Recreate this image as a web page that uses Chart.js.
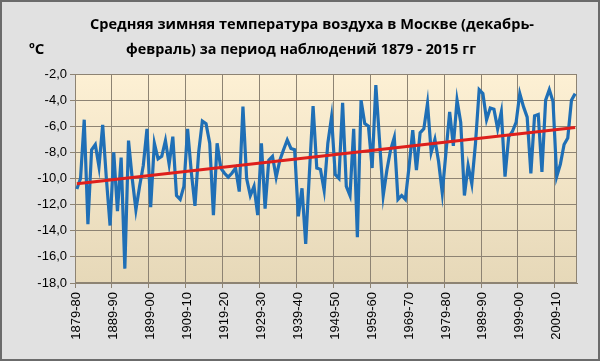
<!DOCTYPE html>
<html lang="ru">
<head>
<meta charset="utf-8">
<script src="https://cdn.jsdelivr.net/npm/chart.js@4.4.1/dist/chart.umd.min.js"></script>
<style>
    html, body { margin: 0; padding: 0; background: #e1e1e1; }
    #wrap { width: 600px; height: 361px; position: relative; }
</style>
</head>
<body>
<div id="wrap"><canvas id="chart"></canvas></div>
<script>
// Подписи и данные
const chartTitle = [
    'Средняя зимняя температура воздуха в Москве (декабрь-',
    'февраль) за период наблюдений 1879 - 2015 гг'
];
const unitLabel = 'ºC';

// зимы 1879-80 ... 2014-15
const firstWinter = 1879;
const winterCount = 136;
const labelStep = 10;
const seasons = [];
for (let k = 0; k < winterCount; k++) {
    const y = firstWinter + k;
    seasons.push(y + '-' + String((y + 1) % 100).padStart(2, '0'));
}

// средняя температура дек-фев, °C
const winterTemps = [
    -10.8, -10.0, -5.5, -13.5, -7.8, -7.4, -9.1, -5.9, -10.0, -13.6,
    -8.0, -12.5, -8.4, -16.9, -7.1, -10.0, -12.4, -10.6, -9.0, -6.2,
    -12.2, -7.3, -8.5, -8.3, -7.1, -8.9, -6.8, -11.3, -11.6, -10.6,
    -6.2, -9.5, -12.1, -8.0, -5.6, -5.8, -7.3, -12.8, -7.3, -9.2,
    -9.6, -9.9, -9.6, -9.2, -11.0, -4.5, -10.0, -11.3, -10.6, -12.8,
    -7.3, -12.3, -8.6, -8.3, -9.9, -8.6, -7.8, -7.05, -7.7, -7.8,
    -12.9, -10.75, -15.0, -9.6, -4.45, -9.2, -9.3, -10.9, -7.3, -5.3,
    -9.7, -10.0, -4.2, -10.6, -11.3, -6.2, -14.5, -4.0, -5.8, -6.0,
    -9.2, -2.85, -7.1, -11.3, -9.35, -7.8, -6.85, -11.6, -11.3, -11.6,
    -9.1, -6.3, -9.35, -6.5, -6.2, -4.25, -8.0, -7.0, -8.7, -11.1,
    -8.0, -4.9, -7.5, -4.0, -5.7, -11.3, -9.0, -10.4, -7.3, -3.2,
    -3.5, -5.5, -4.6, -4.7, -6.2, -4.9, -9.85, -6.8, -6.4, -5.7,
    -3.5, -4.5, -5.3, -9.6, -5.2, -5.1, -9.5, -4.0, -3.2, -4.1,
    -9.85, -8.9, -7.4, -6.9, -4.0, -3.5
];

// линейный тренд: значения в начале и в конце ряда
const trendStart = -10.4;
const trendEnd = -6.1;

const yMin = -18;
const yMax = -2;
const yStep = 2;

const gridColor = '#8d8373';

// тренд только по двум крайним точкам, линия между ними через spanGaps
const trendData = seasons.map((s, k) => {
    if (k === 0) return trendStart;
    if (k === seasons.length - 1) return trendEnd;
    return null;
});

const decor = {
    id: 'decor',
    beforeDraw(chart) {
        const { ctx, chartArea: a, width, height } = chart;
        ctx.save();
        ctx.fillStyle = '#e1e1e1';
        ctx.fillRect(0, 0, width, height);
        const g = ctx.createLinearGradient(0, a.top, 0, a.bottom);
        g.addColorStop(0, '#fdf0d4');
        g.addColorStop(1, '#e6d8b8');
        ctx.fillStyle = g;
        ctx.fillRect(a.left, a.top, a.right - a.left, a.bottom - a.top);
        ctx.restore();
    },
    beforeDatasetsDraw(chart) {
        const { ctx, chartArea: a } = chart;
        ctx.save();
        ctx.strokeStyle = gridColor;
        ctx.lineWidth = 1;
        ctx.strokeRect(a.left + 0.5, a.top + 0.5, a.right - a.left - 1, a.bottom - a.top - 1);
        ctx.restore();
    },
    afterDraw(chart) {
        const { ctx, width, height } = chart;
        ctx.save();
        ctx.fillStyle = '#000';
        ctx.textAlign = 'center';
        ctx.textBaseline = 'middle';
        ctx.font = 'bold 15px "Open Sans"';
        ctx.fillText(chartTitle[0], 312, 25, 444);
        ctx.fillText(chartTitle[1], 301, 50, 350);
        ctx.textAlign = 'left';
        ctx.fillText(unitLabel, 29, 50);
        ctx.strokeStyle = '#6b6b6b';
        ctx.lineWidth = 2;
        ctx.strokeRect(1, 1, width - 2, height - 2);
        ctx.restore();
    }
};

new Chart(document.getElementById('chart'), {
    type: 'line',
    data: {
        labels: seasons,
        datasets: [
            {
                label: 'Тренд',
                data: trendData,
                borderColor: '#de1f1c',
                borderWidth: 3,
                pointRadius: 0,
                spanGaps: true,
                order: 0
            },
            {
                label: 'Температура',
                data: winterTemps,
                borderColor: '#1f6fb6',
                borderWidth: 3.2,
                pointRadius: 0,
                tension: 0,
                order: 1
            }
        ]
    },
    options: {
        responsive: true,
        maintainAspectRatio: false,
        animation: false,
        layout: { padding: { top: 74, right: 23, left: 0, bottom: 0 } },
        plugins: {
            legend: { display: false },
            tooltip: { enabled: false },
            title: { display: false }
        },
        scales: {
            x: {
                type: 'category',
                offset: true,
                afterFit: (scale) => { scale.height = 78; },
                grid: {
                    offset: true,
                    color: (c) => (c.index % labelStep === 0 ? gridColor : 'rgba(0,0,0,0)'),
                    tickLength: 5
                },
                border: { color: gridColor },
                ticks: {
                    autoSkip: false,
                    minRotation: 90,
                    maxRotation: 90,
                    padding: 4,
                    color: '#000',
                    font: { family: '"Liberation Sans", Arial, sans-serif', size: 13 },
                    callback: function (value, index) {
                        return index % labelStep === 0 ? this.getLabelForValue(value) : '';
                    }
                }
            },
            y: {
                min: yMin,
                max: yMax,
                afterFit: (scale) => { scale.width = 75; },
                grid: { color: gridColor, tickLength: 5 },
                border: { color: gridColor },
                ticks: {
                    stepSize: yStep,
                    padding: 3,
                    color: '#000',
                    font: { family: '"Liberation Sans", Arial, sans-serif', size: 13 },
                    callback: (v) => v.toFixed(1).replace('.', ',')
                }
            }
        }
    },
    plugins: [decor]
});
</script>
</body>
</html>
